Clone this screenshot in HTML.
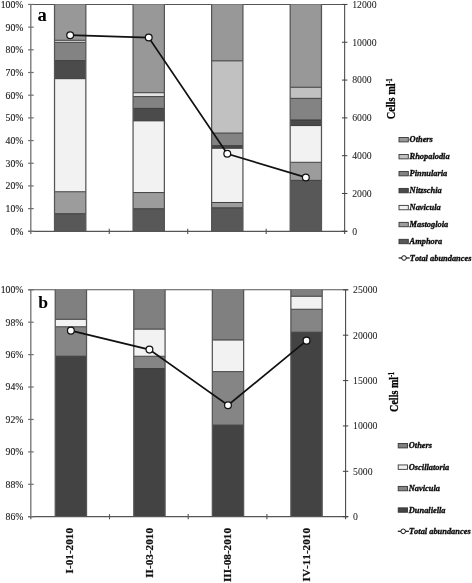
<!DOCTYPE html>
<html><head><meta charset="utf-8"><title>Figure</title>
<style>
html,body{margin:0;padding:0;background:#fff;}
body{width:472px;height:583px;overflow:hidden;font-family:"Liberation Serif", "DejaVu Serif", serif;}
svg{display:block;filter:grayscale(1)}
.t{font:9.75px "Liberation Serif", "DejaVu Serif", serif;fill:#1a1a1a;stroke:#1a1a1a;stroke-width:0.12}
.L{font-family:"Liberation Serif", "DejaVu Serif", serif;font-weight:bold;fill:#000}
.xl{font:bold 11.2px "Liberation Serif", "DejaVu Serif", serif;fill:#111;stroke:#111;stroke-width:0.2}
.at{font-family:"Liberation Serif", "DejaVu Serif", serif;font-weight:bold;fill:#000;stroke:#000;stroke-width:0.3}
  .lg{font:italic bold 8.4px "Liberation Serif", "DejaVu Serif", serif;fill:#0a0a0a;stroke:#0a0a0a;stroke-width:0.33}
.r{stroke-width:0.05}
svg text{font-kerning:none !important;font-variant-ligatures:none !important}
</style></head><body>
<svg width="472" height="583" viewBox="0 0 472 583">
<rect width="472" height="583" fill="#fff"/>
<line x1="28.1" y1="4.45" x2="347.25" y2="4.45" stroke="#555555" stroke-width="1.1"/>
<rect x="54.52" y="213.70" width="31.3" height="17.60" fill="#585858"/>
<rect x="54.52" y="191.74" width="31.3" height="21.96" fill="#9c9c9c"/>
<rect x="54.52" y="78.68" width="31.3" height="113.06" fill="#f2f2f2"/>
<rect x="54.52" y="60.62" width="31.3" height="18.06" fill="#4b4b4b"/>
<rect x="54.52" y="42.33" width="31.3" height="18.28" fill="#838383"/>
<rect x="54.52" y="40.29" width="31.3" height="2.04" fill="#e4e4e4"/>
<rect x="54.52" y="4.45" width="31.3" height="35.84" fill="#989898"/>
<line x1="54.52" y1="213.70" x2="85.83" y2="213.70" stroke="#363636" stroke-width="0.95"/>
<line x1="54.52" y1="191.74" x2="85.83" y2="191.74" stroke="#363636" stroke-width="0.95"/>
<line x1="54.52" y1="78.68" x2="85.83" y2="78.68" stroke="#363636" stroke-width="0.95"/>
<line x1="54.52" y1="60.62" x2="85.83" y2="60.62" stroke="#363636" stroke-width="0.95"/>
<line x1="54.52" y1="42.33" x2="85.83" y2="42.33" stroke="#363636" stroke-width="0.95"/>
<line x1="54.52" y1="40.29" x2="85.83" y2="40.29" stroke="#363636" stroke-width="0.95"/>
<line x1="54.52" y1="4.45" x2="54.52" y2="231.3" stroke="#555555" stroke-width="1.25"/>
<line x1="85.83" y1="4.45" x2="85.83" y2="231.3" stroke="#555555" stroke-width="1.25"/>
<rect x="133.07" y="208.71" width="31.3" height="22.59" fill="#585858"/>
<rect x="133.07" y="192.55" width="31.3" height="16.15" fill="#9c9c9c"/>
<rect x="133.07" y="120.87" width="31.3" height="71.68" fill="#f2f2f2"/>
<rect x="133.07" y="108.42" width="31.3" height="12.45" fill="#4b4b4b"/>
<rect x="133.07" y="96.60" width="31.3" height="11.82" fill="#838383"/>
<rect x="133.07" y="92.72" width="31.3" height="3.88" fill="#e4e4e4"/>
<rect x="133.07" y="4.45" width="31.3" height="88.27" fill="#989898"/>
<line x1="133.07" y1="208.71" x2="164.38" y2="208.71" stroke="#363636" stroke-width="0.95"/>
<line x1="133.07" y1="192.55" x2="164.38" y2="192.55" stroke="#363636" stroke-width="0.95"/>
<line x1="133.07" y1="120.87" x2="164.38" y2="120.87" stroke="#363636" stroke-width="0.95"/>
<line x1="133.07" y1="108.42" x2="164.38" y2="108.42" stroke="#363636" stroke-width="0.95"/>
<line x1="133.07" y1="96.60" x2="164.38" y2="96.60" stroke="#363636" stroke-width="0.95"/>
<line x1="133.07" y1="92.72" x2="164.38" y2="92.72" stroke="#363636" stroke-width="0.95"/>
<line x1="133.07" y1="4.45" x2="133.07" y2="231.3" stroke="#555555" stroke-width="1.25"/>
<line x1="164.38" y1="4.45" x2="164.38" y2="231.3" stroke="#555555" stroke-width="1.25"/>
<rect x="211.62" y="207.78" width="31.3" height="23.52" fill="#585858"/>
<rect x="211.62" y="202.49" width="31.3" height="5.29" fill="#9c9c9c"/>
<rect x="211.62" y="148.27" width="31.3" height="54.22" fill="#f2f2f2"/>
<rect x="211.62" y="145.64" width="31.3" height="2.63" fill="#4b4b4b"/>
<rect x="211.62" y="133.07" width="31.3" height="12.57" fill="#838383"/>
<rect x="211.62" y="60.87" width="31.3" height="72.21" fill="#c1c1c1"/>
<rect x="211.62" y="4.45" width="31.3" height="56.42" fill="#989898"/>
<line x1="211.62" y1="207.78" x2="242.93" y2="207.78" stroke="#363636" stroke-width="0.95"/>
<line x1="211.62" y1="202.49" x2="242.93" y2="202.49" stroke="#363636" stroke-width="0.95"/>
<line x1="211.62" y1="148.27" x2="242.93" y2="148.27" stroke="#363636" stroke-width="0.95"/>
<line x1="211.62" y1="145.64" x2="242.93" y2="145.64" stroke="#363636" stroke-width="0.95"/>
<line x1="211.62" y1="133.07" x2="242.93" y2="133.07" stroke="#363636" stroke-width="0.95"/>
<line x1="211.62" y1="60.87" x2="242.93" y2="60.87" stroke="#363636" stroke-width="0.95"/>
<line x1="211.62" y1="4.45" x2="211.62" y2="231.3" stroke="#555555" stroke-width="1.25"/>
<line x1="242.93" y1="4.45" x2="242.93" y2="231.3" stroke="#555555" stroke-width="1.25"/>
<rect x="290.18" y="180.37" width="31.3" height="50.93" fill="#585858"/>
<rect x="290.18" y="162.29" width="31.3" height="18.08" fill="#9c9c9c"/>
<rect x="290.18" y="125.59" width="31.3" height="36.70" fill="#f2f2f2"/>
<rect x="290.18" y="119.96" width="31.3" height="5.63" fill="#4b4b4b"/>
<rect x="290.18" y="98.37" width="31.3" height="21.60" fill="#838383"/>
<rect x="290.18" y="87.27" width="31.3" height="11.09" fill="#c1c1c1"/>
<rect x="290.18" y="4.45" width="31.3" height="82.82" fill="#989898"/>
<line x1="290.18" y1="180.37" x2="321.48" y2="180.37" stroke="#363636" stroke-width="0.95"/>
<line x1="290.18" y1="162.29" x2="321.48" y2="162.29" stroke="#363636" stroke-width="0.95"/>
<line x1="290.18" y1="125.59" x2="321.48" y2="125.59" stroke="#363636" stroke-width="0.95"/>
<line x1="290.18" y1="119.96" x2="321.48" y2="119.96" stroke="#363636" stroke-width="0.95"/>
<line x1="290.18" y1="98.37" x2="321.48" y2="98.37" stroke="#363636" stroke-width="0.95"/>
<line x1="290.18" y1="87.27" x2="321.48" y2="87.27" stroke="#363636" stroke-width="0.95"/>
<line x1="290.18" y1="4.45" x2="290.18" y2="231.3" stroke="#555555" stroke-width="1.25"/>
<line x1="321.48" y1="4.45" x2="321.48" y2="231.3" stroke="#555555" stroke-width="1.25"/>
<line x1="30.8" y1="4.45" x2="30.8" y2="233.9" stroke="#707070" stroke-width="1.3"/>
<line x1="344.65" y1="4.45" x2="344.65" y2="233.9" stroke="#444444" stroke-width="1.05"/>
<line x1="28.1" y1="231.3" x2="347.25" y2="231.3" stroke="#555555" stroke-width="1.2"/>
<line x1="28.1" y1="231.30" x2="33.7" y2="231.30" stroke="#707070" stroke-width="1.2"/>
<text x="23.4" y="234.75" text-anchor="end" class="t">0%</text>
<line x1="28.1" y1="208.62" x2="33.7" y2="208.62" stroke="#707070" stroke-width="1.2"/>
<text x="23.4" y="212.06" text-anchor="end" class="t">10%</text>
<line x1="28.1" y1="185.93" x2="33.7" y2="185.93" stroke="#707070" stroke-width="1.2"/>
<text x="23.4" y="189.38" text-anchor="end" class="t">20%</text>
<line x1="28.1" y1="163.25" x2="33.7" y2="163.25" stroke="#707070" stroke-width="1.2"/>
<text x="23.4" y="166.69" text-anchor="end" class="t">30%</text>
<line x1="28.1" y1="140.56" x2="33.7" y2="140.56" stroke="#707070" stroke-width="1.2"/>
<text x="23.4" y="144.01" text-anchor="end" class="t">40%</text>
<line x1="28.1" y1="117.88" x2="33.7" y2="117.88" stroke="#707070" stroke-width="1.2"/>
<text x="23.4" y="121.33" text-anchor="end" class="t">50%</text>
<line x1="28.1" y1="95.19" x2="33.7" y2="95.19" stroke="#707070" stroke-width="1.2"/>
<text x="23.4" y="98.64" text-anchor="end" class="t">60%</text>
<line x1="28.1" y1="72.50" x2="33.7" y2="72.50" stroke="#707070" stroke-width="1.2"/>
<text x="23.4" y="75.95" text-anchor="end" class="t">70%</text>
<line x1="28.1" y1="49.82" x2="33.7" y2="49.82" stroke="#707070" stroke-width="1.2"/>
<text x="23.4" y="53.27" text-anchor="end" class="t">80%</text>
<line x1="28.1" y1="27.13" x2="33.7" y2="27.13" stroke="#707070" stroke-width="1.2"/>
<text x="23.4" y="30.58" text-anchor="end" class="t">90%</text>
<line x1="28.1" y1="4.45" x2="33.7" y2="4.45" stroke="#707070" stroke-width="1.2"/>
<text x="23.4" y="7.90" text-anchor="end" class="t">100%</text>
<line x1="341.95" y1="231.30" x2="347.34999999999997" y2="231.30" stroke="#444444" stroke-width="1.05"/>
<text x="352.15" y="234.65" class="t r">0</text>
<line x1="341.95" y1="193.49" x2="347.34999999999997" y2="193.49" stroke="#444444" stroke-width="1.05"/>
<text x="352.15" y="196.84" class="t r">2000</text>
<line x1="341.95" y1="155.68" x2="347.34999999999997" y2="155.68" stroke="#444444" stroke-width="1.05"/>
<text x="352.15" y="159.03" class="t r">4000</text>
<line x1="341.95" y1="117.88" x2="347.34999999999997" y2="117.88" stroke="#444444" stroke-width="1.05"/>
<text x="352.15" y="121.22" class="t r">6000</text>
<line x1="341.95" y1="80.07" x2="347.34999999999997" y2="80.07" stroke="#444444" stroke-width="1.05"/>
<text x="352.15" y="83.42" class="t r">8000</text>
<line x1="341.95" y1="42.26" x2="347.34999999999997" y2="42.26" stroke="#444444" stroke-width="1.05"/>
<text x="352.15" y="45.61" class="t r">10000</text>
<line x1="341.95" y1="4.45" x2="347.34999999999997" y2="4.45" stroke="#444444" stroke-width="1.05"/>
<text x="352.15" y="7.80" class="t r">12000</text>
<line x1="109.26" y1="228.70000000000002" x2="109.26" y2="233.9" stroke="#555555" stroke-width="1.1"/>
<line x1="187.72" y1="228.70000000000002" x2="187.72" y2="233.9" stroke="#555555" stroke-width="1.1"/>
<line x1="266.19" y1="228.70000000000002" x2="266.19" y2="233.9" stroke="#555555" stroke-width="1.1"/>
<polyline fill="none" stroke="#111" stroke-width="1.7" points="70.17,35.17 148.72,37.53 227.28,153.79 305.83,177.42"/>
<circle cx="70.17" cy="35.17" r="3.4" fill="#fff" stroke="#111" stroke-width="1.25"/>
<circle cx="148.72" cy="37.53" r="3.4" fill="#fff" stroke="#111" stroke-width="1.25"/>
<circle cx="227.28" cy="153.79" r="3.4" fill="#fff" stroke="#111" stroke-width="1.25"/>
<circle cx="305.83" cy="177.42" r="3.4" fill="#fff" stroke="#111" stroke-width="1.25"/>
<text x="37.4" y="20.95" class="L" font-size="18.6">a</text>
<line x1="28.1" y1="289.8" x2="348.20000000000005" y2="289.8" stroke="#555555" stroke-width="1.1"/>
<rect x="55.23" y="356.25" width="31.3" height="160.45" fill="#434343"/>
<rect x="55.23" y="326.75" width="31.3" height="29.50" fill="#858585"/>
<rect x="55.23" y="319.30" width="31.3" height="7.46" fill="#f2f2f2"/>
<rect x="55.23" y="289.80" width="31.3" height="29.50" fill="#808080"/>
<line x1="55.23" y1="356.25" x2="86.53" y2="356.25" stroke="#363636" stroke-width="0.95"/>
<line x1="55.23" y1="326.75" x2="86.53" y2="326.75" stroke="#363636" stroke-width="0.95"/>
<line x1="55.23" y1="319.30" x2="86.53" y2="319.30" stroke="#363636" stroke-width="0.95"/>
<line x1="55.23" y1="289.8" x2="55.23" y2="516.7" stroke="#555555" stroke-width="1.25"/>
<line x1="86.53" y1="289.8" x2="86.53" y2="516.7" stroke="#555555" stroke-width="1.25"/>
<rect x="133.78" y="368.57" width="31.3" height="148.13" fill="#434343"/>
<rect x="133.78" y="356.25" width="31.3" height="12.32" fill="#858585"/>
<rect x="133.78" y="329.18" width="31.3" height="27.07" fill="#f2f2f2"/>
<rect x="133.78" y="289.80" width="31.3" height="39.38" fill="#808080"/>
<line x1="133.78" y1="368.57" x2="165.08" y2="368.57" stroke="#363636" stroke-width="0.95"/>
<line x1="133.78" y1="356.25" x2="165.08" y2="356.25" stroke="#363636" stroke-width="0.95"/>
<line x1="133.78" y1="329.18" x2="165.08" y2="329.18" stroke="#363636" stroke-width="0.95"/>
<line x1="133.78" y1="289.8" x2="133.78" y2="516.7" stroke="#555555" stroke-width="1.25"/>
<line x1="165.08" y1="289.8" x2="165.08" y2="516.7" stroke="#555555" stroke-width="1.25"/>
<rect x="212.33" y="425.13" width="31.3" height="91.57" fill="#434343"/>
<rect x="212.33" y="371.65" width="31.3" height="53.48" fill="#858585"/>
<rect x="212.33" y="340.04" width="31.3" height="31.60" fill="#f2f2f2"/>
<rect x="212.33" y="289.80" width="31.3" height="50.24" fill="#808080"/>
<line x1="212.33" y1="425.13" x2="243.63" y2="425.13" stroke="#363636" stroke-width="0.95"/>
<line x1="212.33" y1="371.65" x2="243.63" y2="371.65" stroke="#363636" stroke-width="0.95"/>
<line x1="212.33" y1="340.04" x2="243.63" y2="340.04" stroke="#363636" stroke-width="0.95"/>
<line x1="212.33" y1="289.8" x2="212.33" y2="516.7" stroke="#555555" stroke-width="1.25"/>
<line x1="243.63" y1="289.8" x2="243.63" y2="516.7" stroke="#555555" stroke-width="1.25"/>
<rect x="290.88" y="332.26" width="31.3" height="184.44" fill="#434343"/>
<rect x="290.88" y="309.25" width="31.3" height="23.01" fill="#858585"/>
<rect x="290.88" y="296.28" width="31.3" height="12.97" fill="#f2f2f2"/>
<rect x="290.88" y="289.80" width="31.3" height="6.48" fill="#808080"/>
<line x1="290.88" y1="332.26" x2="322.18" y2="332.26" stroke="#363636" stroke-width="0.95"/>
<line x1="290.88" y1="309.25" x2="322.18" y2="309.25" stroke="#363636" stroke-width="0.95"/>
<line x1="290.88" y1="296.28" x2="322.18" y2="296.28" stroke="#363636" stroke-width="0.95"/>
<line x1="290.88" y1="289.8" x2="290.88" y2="516.7" stroke="#555555" stroke-width="1.25"/>
<line x1="322.18" y1="289.8" x2="322.18" y2="516.7" stroke="#555555" stroke-width="1.25"/>
<line x1="30.8" y1="289.8" x2="30.8" y2="519.3000000000001" stroke="#707070" stroke-width="1.3"/>
<line x1="345.6" y1="289.8" x2="345.6" y2="519.3000000000001" stroke="#444444" stroke-width="1.05"/>
<line x1="28.1" y1="516.7" x2="348.20000000000005" y2="516.7" stroke="#555555" stroke-width="1.2"/>
<line x1="28.1" y1="516.70" x2="33.7" y2="516.70" stroke="#707070" stroke-width="1.2"/>
<text x="23.4" y="520.15" text-anchor="end" class="t">86%</text>
<line x1="28.1" y1="484.29" x2="33.7" y2="484.29" stroke="#707070" stroke-width="1.2"/>
<text x="23.4" y="487.74" text-anchor="end" class="t">88%</text>
<line x1="28.1" y1="451.87" x2="33.7" y2="451.87" stroke="#707070" stroke-width="1.2"/>
<text x="23.4" y="455.32" text-anchor="end" class="t">90%</text>
<line x1="28.1" y1="419.46" x2="33.7" y2="419.46" stroke="#707070" stroke-width="1.2"/>
<text x="23.4" y="422.91" text-anchor="end" class="t">92%</text>
<line x1="28.1" y1="387.04" x2="33.7" y2="387.04" stroke="#707070" stroke-width="1.2"/>
<text x="23.4" y="390.49" text-anchor="end" class="t">94%</text>
<line x1="28.1" y1="354.63" x2="33.7" y2="354.63" stroke="#707070" stroke-width="1.2"/>
<text x="23.4" y="358.08" text-anchor="end" class="t">96%</text>
<line x1="28.1" y1="322.21" x2="33.7" y2="322.21" stroke="#707070" stroke-width="1.2"/>
<text x="23.4" y="325.66" text-anchor="end" class="t">98%</text>
<line x1="28.1" y1="289.80" x2="33.7" y2="289.80" stroke="#707070" stroke-width="1.2"/>
<text x="23.4" y="293.25" text-anchor="end" class="t">100%</text>
<line x1="342.90000000000003" y1="516.70" x2="348.3" y2="516.70" stroke="#444444" stroke-width="1.05"/>
<text x="353.1" y="520.05" class="t r">0</text>
<line x1="342.90000000000003" y1="471.32" x2="348.3" y2="471.32" stroke="#444444" stroke-width="1.05"/>
<text x="353.1" y="474.67" class="t r">5000</text>
<line x1="342.90000000000003" y1="425.94" x2="348.3" y2="425.94" stroke="#444444" stroke-width="1.05"/>
<text x="353.1" y="429.29" class="t r">10000</text>
<line x1="342.90000000000003" y1="380.56" x2="348.3" y2="380.56" stroke="#444444" stroke-width="1.05"/>
<text x="353.1" y="383.91" class="t r">15000</text>
<line x1="342.90000000000003" y1="335.18" x2="348.3" y2="335.18" stroke="#444444" stroke-width="1.05"/>
<text x="353.1" y="338.53" class="t r">20000</text>
<line x1="342.90000000000003" y1="289.80" x2="348.3" y2="289.80" stroke="#444444" stroke-width="1.05"/>
<text x="353.1" y="293.15" class="t r">25000</text>
<line x1="109.50" y1="514.1" x2="109.50" y2="519.3000000000001" stroke="#555555" stroke-width="1.1"/>
<line x1="188.20" y1="514.1" x2="188.20" y2="519.3000000000001" stroke="#555555" stroke-width="1.1"/>
<line x1="266.90" y1="514.1" x2="266.90" y2="519.3000000000001" stroke="#555555" stroke-width="1.1"/>
<polyline fill="none" stroke="#111" stroke-width="1.7" points="70.88,330.64 149.43,349.61 227.98,405.20 306.53,340.63"/>
<circle cx="70.88" cy="330.64" r="3.4" fill="#fff" stroke="#111" stroke-width="1.25"/>
<circle cx="149.43" cy="349.61" r="3.4" fill="#fff" stroke="#111" stroke-width="1.25"/>
<circle cx="227.98" cy="405.20" r="3.4" fill="#fff" stroke="#111" stroke-width="1.25"/>
<circle cx="306.53" cy="340.63" r="3.4" fill="#fff" stroke="#111" stroke-width="1.25"/>
<text x="38.3" y="308.2" class="L" font-size="17.7">b</text>
<text transform="translate(73.48,528.0) rotate(-90)" text-anchor="end" class="xl">I-01-2010</text>
<text transform="translate(152.53,528.0) rotate(-90)" text-anchor="end" class="xl">II-03-2010</text>
<text transform="translate(231.08,528.0) rotate(-90)" text-anchor="end" class="xl">III-08-2010</text>
<text transform="translate(310.12,528.0) rotate(-90)" text-anchor="end" class="xl">IV-11-2010</text>
<text transform="translate(395.4,98.9) rotate(-90) scale(0.775,1)" text-anchor="middle" class="at" font-size="13.4">Cells ml<tspan dy="-3.3" font-size="7.6">-1</tspan></text>
<text transform="translate(397.5,392.0) rotate(-90) scale(0.795,1)" text-anchor="middle" class="at" font-size="12.7">Cells ml<tspan dy="-3.1" font-size="7.2">-1</tspan></text>
<rect x="399" y="137.50" width="9.3" height="4.4" fill="#989898" stroke="#363636" stroke-width="0.9"/>
<text x="409.6" y="142.30" class="lg">Others</text>
<rect x="399" y="154.47" width="9.3" height="4.4" fill="#c1c1c1" stroke="#363636" stroke-width="0.9"/>
<text x="409.6" y="159.27" class="lg">Rhopalodia</text>
<rect x="399" y="171.44" width="9.3" height="4.4" fill="#838383" stroke="#363636" stroke-width="0.9"/>
<text x="409.6" y="176.24" class="lg">Pinnularia</text>
<rect x="399" y="188.41" width="9.3" height="4.4" fill="#4b4b4b" stroke="#363636" stroke-width="0.9"/>
<text x="409.6" y="193.21" class="lg">Nitzschia</text>
<rect x="399" y="205.38" width="9.3" height="4.4" fill="#f2f2f2" stroke="#363636" stroke-width="0.9"/>
<text x="409.6" y="210.18" class="lg">Navicula</text>
<rect x="399" y="222.35" width="9.3" height="4.4" fill="#9c9c9c" stroke="#363636" stroke-width="0.9"/>
<text x="409.6" y="227.15" class="lg">Mastogloia</text>
<rect x="399" y="239.32" width="9.3" height="4.4" fill="#585858" stroke="#363636" stroke-width="0.9"/>
<text x="409.6" y="244.12" class="lg">Amphora</text>
<line x1="398.6" y1="257.99" x2="409.7" y2="257.99" stroke="#111" stroke-width="1.2"/>
<circle cx="404" cy="257.99" r="2.3" fill="#fff" stroke="#111" stroke-width="1"/>
<text x="409.8" y="261.09" class="lg">Total abundances</text>
<rect x="398.2" y="443.50" width="9.3" height="4.4" fill="#808080" stroke="#363636" stroke-width="0.9"/>
<text x="408.8" y="448.30" class="lg">Others</text>
<rect x="398.2" y="464.95" width="9.3" height="4.4" fill="#f2f2f2" stroke="#363636" stroke-width="0.9"/>
<text x="408.8" y="469.75" class="lg">Oscillatoria</text>
<rect x="398.2" y="486.40" width="9.3" height="4.4" fill="#858585" stroke="#363636" stroke-width="0.9"/>
<text x="408.8" y="491.20" class="lg">Navicula</text>
<rect x="398.2" y="507.85" width="9.3" height="4.4" fill="#434343" stroke="#363636" stroke-width="0.9"/>
<text x="408.8" y="512.65" class="lg">Dunaliella</text>
<line x1="397.8" y1="531.3" x2="408.9" y2="531.3" stroke="#111" stroke-width="1.2"/>
<circle cx="403.2" cy="531.3" r="2.3" fill="#fff" stroke="#111" stroke-width="1"/>
<text x="409.0" y="534.40" class="lg">Total abundances</text>
</svg>
</body></html>
